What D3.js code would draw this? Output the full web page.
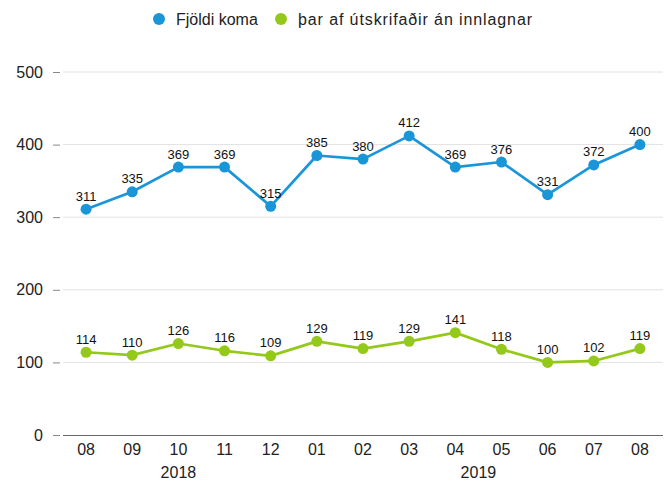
<!DOCTYPE html>
<html><head><meta charset="utf-8">
<script src="https://cdn.jsdelivr.net/npm/d3@7"></script>
<style>body{margin:0;background:#fff;} text{font-family:"Liberation Sans",Arial,sans-serif;}</style>
</head><body><svg id="c" width="668" height="483"></svg>
<script>
const months = ["08","09","10","11","12","01","02","03","04","05","06","07","08"];
const years = [{label:"2018", from:0, to:4},{label:"2019", from:5, to:12}];
const fjoldiKoma = [311,335,369,369,315,385,380,412,369,376,331,372,400];
const utskrifadir = [114,110,126,116,109,129,119,129,141,118,100,102,119];
const yTicks = [0,100,200,300,400,500];
const series = [
  {name:"Fjöldi koma", values:fjoldiKoma, color:"#1a96d8"},
  {name:"þar af útskrifaðir án innlagnar", values:utskrifadir, color:"#94c91c"}
];
const FONT = "Liberation Sans, Arial, sans-serif";

const svg = d3.select("#c");
const x = d3.scaleBand().domain(d3.range(months.length)).range([63,663]);
const y = d3.scaleLinear().domain([0,500]).range([435,72]);
const cx = i => x(i) + x.bandwidth()/2;

// grid
svg.append("g").selectAll("line").data(yTicks.filter(d=>d>0)).join("line")
  .attr("x1",63).attr("x2",663).attr("y1",d=>y(d)).attr("y2",d=>y(d))
  .attr("stroke","#e2e2e2").attr("stroke-width",1);

// y axis
const ya = svg.append("g").attr("transform","translate(62,0)")
  .call(d3.axisLeft(y).tickValues(yTicks).tickSize(6).tickPadding(13).tickFormat(d3.format("d")));
ya.select(".domain").remove();
ya.selectAll(".tick line").attr("stroke","#888").attr("x1",-2).attr("x2",-9);
ya.selectAll("text").attr("font-size",16).attr("fill","#222").attr("font-family",FONT);

// x axis
const xa = svg.append("g").attr("transform","translate(0,435)")
  .call(d3.axisBottom(x).tickSize(0).tickPadding(9).tickFormat(i=>months[i]));
xa.select(".domain").attr("stroke","#666").attr("d","M63,0.5H663");
xa.selectAll("text").attr("font-size",16).attr("fill","#222").attr("font-family",FONT);

svg.append("g").selectAll("text").data(years).join("text")
  .attr("x",d=>(cx(d.from)+cx(d.to))/2).attr("y",478)
  .attr("text-anchor","middle").attr("font-size",16).attr("fill","#222").text(d=>d.label);

// lines
const line = d3.line().x((d,i)=>cx(i)).y(d=>y(d));
series.forEach(s=>{
  const g = svg.append("g");
  g.append("path").datum(s.values).attr("d",line).attr("fill","none")
    .attr("stroke",s.color).attr("stroke-width",2.7).attr("stroke-linejoin","round");
  g.selectAll("circle").data(s.values).join("circle")
    .attr("cx",(d,i)=>cx(i)).attr("cy",d=>y(d)).attr("r",5.5).attr("fill",s.color);
  g.selectAll("text").data(s.values).join("text")
    .attr("x",(d,i)=>cx(i)).attr("y",d=>y(d)-8.5)
    .attr("text-anchor","middle").attr("font-size",13).attr("fill","#111").text(d=>d);
});

// legend
const leg = [{x:159, len:null},{x:281, len:234}];
series.forEach((s,i)=>{
  svg.append("circle").attr("cx",leg[i].x).attr("cy",19).attr("r",6).attr("fill",s.color);
  const t = svg.append("text").attr("x",leg[i].x+17).attr("y",25).attr("font-size",16).attr("fill","#222").text(s.name);
  if (leg[i].len) t.attr("textLength",leg[i].len).attr("lengthAdjust","spacing");
});
</script></body></html>
